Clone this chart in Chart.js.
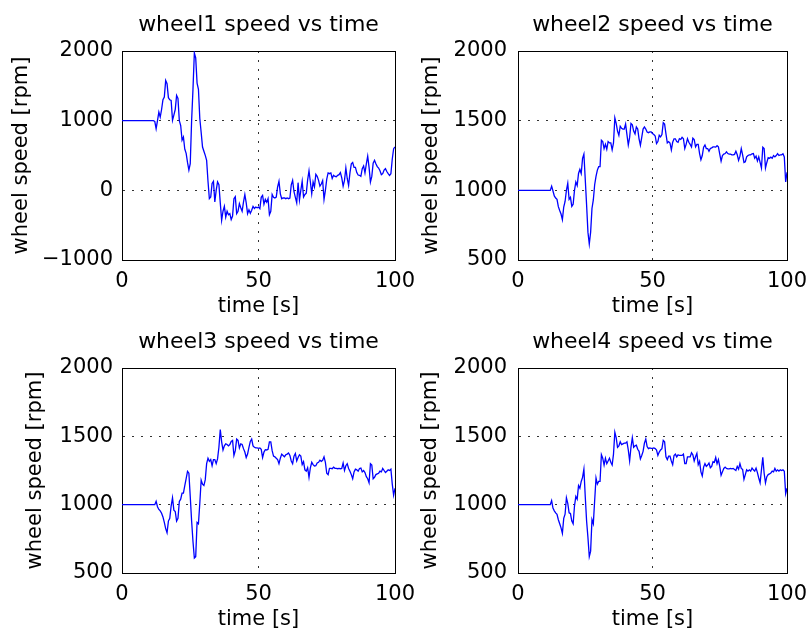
<!DOCTYPE html>
<html>
<head>
<meta charset="utf-8">
<script src="https://cdn.jsdelivr.net/npm/chart.js@4/dist/chart.umd.min.js"></script>
<style>
  html, body { margin: 0; padding: 0; background: #fff; }
  #fig { position: relative; width: 809px; height: 639px; }
  #fig canvas { position: absolute; left: 0; top: 0; }
</style>
</head>
<body>
<div id="fig">
  <canvas id="wheel1" width="809" height="639"></canvas>
  <canvas id="wheel2" width="809" height="639"></canvas>
  <canvas id="wheel3" width="809" height="639"></canvas>
  <canvas id="wheel4" width="809" height="639"></canvas>
</div>
<script>
// Sample times [s], 0.5 s period
const time = [
  0,0.5,1,1.5,2,2.5,3,3.5,4,4.5,
  5,5.5,6,6.5,7,7.5,8,8.5,9,9.5,
  10,10.5,11,11.5,12,12.5,13,13.5,14,14.5,
  15,15.5,16,16.5,17,17.5,18,18.5,19,19.5,
  20,20.5,21,21.5,22,22.5,23,23.5,24,24.5,
  25,25.5,26,26.5,27,27.5,28,28.5,29,29.5,
  30,30.5,31,31.5,32,32.5,33,33.5,34,34.5,
  35,35.5,36,36.5,37,37.5,38,38.5,39,39.5,
  40,40.5,41,41.5,42,42.5,43,43.5,44,44.5,
  45,45.5,46,46.5,47,47.5,48,48.5,49,49.5,
  50,50.5,51,51.5,52,52.5,53,53.5,54,54.5,
  55,55.5,56,56.5,57,57.5,58,58.5,59,59.5,
  60,60.5,61,61.5,62,62.5,63,63.5,64,64.5,
  65,65.5,66,66.5,67,67.5,68,68.5,69,69.5,
  70,70.5,71,71.5,72,72.5,73,73.5,74,74.5,
  75,75.5,76,76.5,77,77.5,78,78.5,79,79.5,
  80,80.5,81,81.5,82,82.5,83,83.5,84,84.5,
  85,85.5,86,86.5,87,87.5,88,88.5,89,89.5,
  90,90.5,91,91.5,92,92.5,93,93.5,94,94.5,
  95,95.5,96,96.5,97,97.5,98,98.5,99,99.5,
  100
];

// Wheel speeds [rpm]
const speed1 = [
  1000,1000,1000,1000,1000,1000,1000,1000,1000,1000,
  1000,1000,1000,1000,1000,1000,1000,1000,1000,1000,
  1000,1000,1000,1000,990,885,1000,1124,1052,1160,
  1300,1339,1578,1530,1330,1300,1290,1005,1080,1160,
  1363,1320,1000,930,720,765,590,530,400,290,
  383,1000,1450,1971,1900,1540,1450,1030,830,622,
  560,502,430,130,-120,-96,100,130,-167,0,
  120,80,-180,-430,-300,-230,-383,-300,-350,-335,
  -420,-370,-120,-90,-335,-300,-191,-250,-300,-170,
  -60,-180,-335,-280,-330,-287,-230,-260,-239,-250,
  -240,-263,-100,-72,-200,-130,-170,-120,-350,-300,
  -60,-100,-110,-96,48,130,-50,-120,-110,-110,
  -120,-110,-120,-110,80,143,-20,-100,-180,110,
  -140,0,130,-96,-60,-40,150,280,120,-48,
  120,50,230,200,143,60,90,140,-130,0,
  160,250,239,250,170,215,200,195,215,225,
  255,180,60,143,320,170,70,250,380,400,
  330,330,255,220,215,200,310,350,250,380,
  490,330,120,200,390,430,380,340,320,280,
  225,240,290,310,270,239,215,239,450,598,
  622
];

const speed2 = [
  1000,1000,1000,1000,1000,1000,1000,1000,1000,1000,
  1000,1000,1000,1000,1000,1000,1000,1000,1000,1000,
  1000,1000,1000,1000,1000,1030,995,960,945,935,
  883,855,830,790,880,920,1000,1050,935,950,
  885,900,1000,1060,1035,1121,1150,1120,1229,1260,
  1080,895,700,615,700,870,931,1040,1100,1145,
  1170,1170,1360,1350,1300,1330,1295,1350,1340,1340,
  1290,1340,1520,1480,1425,1395,1460,1445,1440,1440,
  1475,1400,1325,1380,1480,1470,1425,1405,1455,1440,
  1370,1324,1380,1440,1455,1440,1419,1414,1419,1419,
  1408,1400,1390,1336,1350,1395,1383,1400,1485,1475,
  1405,1340,1350,1340,1290,1345,1370,1370,1350,1345,
  1371,1365,1380,1370,1300,1330,1371,1345,1330,1312,
  1375,1365,1312,1330,1330,1264,1220,1250,1310,1325,
  1300,1300,1280,1300,1305,1312,1312,1310,1320,1312,
  1260,1210,1250,1260,1264,1276,1264,1260,1260,1255,
  1255,1258,1280,1255,1215,1245,1300,1255,1200,1205,
  1240,1250,1255,1255,1262,1264,1230,1245,1210,1240,
  1200,1160,1310,1300,1160,1200,1235,1230,1238,1230,
  1250,1240,1250,1264,1250,1255,1255,1262,1240,1060,
  1130
];

const speed3 = [
  1000,1000,1000,1000,1000,1000,1000,1000,1000,1000,
  1000,1000,1000,1000,1000,1000,1000,1000,1000,1000,
  1000,1000,1000,1000,1000,1025,985,965,955,937,
  910,870,825,795,880,900,990,1050,960,950,
  880,900,1024,1040,1085,1085,1140,1190,1244,1230,
  1060,880,730,610,620,870,860,1010,1180,1150,
  1140,1183,1300,1340,1317,1330,1285,1330,1330,1300,
  1335,1420,1549,1460,1400,1430,1445,1440,1430,1440,
  1463,1470,1360,1395,1480,1470,1415,1445,1440,1410,
  1385,1345,1370,1420,1463,1480,1430,1420,1415,1415,
  1412,1415,1405,1345,1385,1402,1400,1405,1460,1460,
  1395,1355,1350,1340,1330,1300,1340,1370,1360,1350,
  1365,1370,1378,1360,1320,1300,1355,1375,1320,1345,
  1365,1355,1293,1315,1255,1245,1270,1200,1270,1310,
  1293,1283,1285,1305,1310,1325,1317,1325,1350,1310,
  1230,1220,1265,1265,1263,1275,1266,1265,1263,1265,
  1263,1265,1305,1250,1285,1300,1265,1245,1220,1190,
  1240,1260,1255,1245,1265,1268,1240,1250,1235,1205,
  1190,1160,1300,1290,1190,1200,1220,1225,1230,1245,
  1240,1265,1250,1235,1245,1255,1250,1260,1150,1070,
  1120
];

const speed4 = [
  1000,1000,1000,1000,1000,1000,1000,1000,1000,1000,
  1000,1000,1000,1000,1000,1000,1000,1000,1000,1000,
  1000,1000,1000,1000,1000,1030,975,955,940,930,
  890,860,830,790,900,930,1050,1010,940,935,
  880,860,990,1060,1040,1140,1120,1170,1200,1260,
  1060,880,760,620,660,890,860,1030,1195,1150,
  1170,1170,1366,1340,1290,1340,1300,1320,1340,1310,
  1290,1370,1530,1490,1420,1430,1460,1440,1445,1450,
  1450,1460,1400,1320,1420,1490,1420,1430,1435,1405,
  1390,1335,1360,1390,1450,1480,1425,1410,1415,1412,
  1412,1415,1410,1400,1360,1385,1400,1410,1470,1460,
  1350,1330,1355,1355,1320,1293,1360,1370,1350,1365,
  1360,1360,1360,1370,1300,1300,1350,1350,1350,1380,
  1365,1320,1350,1375,1293,1317,1240,1210,1275,1300,
  1280,1290,1305,1270,1280,1315,1310,1345,1300,1330,
  1280,1215,1240,1265,1275,1265,1262,1262,1265,1262,
  1265,1258,1250,1280,1260,1300,1265,1258,1185,1220,
  1255,1245,1255,1245,1268,1255,1245,1268,1235,1195,
  1160,1255,1346,1230,1160,1205,1220,1225,1232,1245,
  1240,1265,1245,1255,1245,1255,1250,1255,1245,1080,
  1120
];

// Axis ticks and texts
const xTicks = [0, 50, 100];
const yTicksWheel1 = [-1000, 0, 1000, 2000];
const yTicksOther = [500, 1000, 1500, 2000];
const panelTitles = ['wheel1 speed vs time', 'wheel2 speed vs time', 'wheel3 speed vs time', 'wheel4 speed vs time'];
const xLabel = 'time [s]';
const yLabel = 'wheel speed [rpm]';

Chart.defaults.font.family = "'DejaVu Sans', sans-serif";
Chart.defaults.color = '#000';

const TICK_FONT = { size: 21, lineHeight: 1.2 };
const LABEL_FONT = { size: 21, lineHeight: 1.2 };
const TITLE_FONT = { size: 22, weight: 'normal', lineHeight: 1.2 };

function tickText(v) {
  return v < 0 ? '\u2212' + Math.abs(v) : String(v);
}

function fixedTicks(list) {
  return (scale) => { scale.ticks = list.map(v => ({ value: v })); };
}

// One subplot per canvas; geometry sets where its axes box sits on the page
function panel(id, title, values, yTicks, g) {
  const blue = '#0000ff';
  new Chart(document.getElementById(id), {
    type: 'line',
    data: {
      datasets: [{
        data: time.map((t, i) => ({ x: t, y: values[i] })),
        borderColor: blue,
        borderWidth: 1.3,
        pointRadius: 0,
        fill: false,
        tension: 0,
        xAxisID: 'x',
        yAxisID: 'y'
      }]
    },
    options: {
      responsive: false,
      animation: false,
      devicePixelRatio: 1,
      events: [],
      layout: { autoPadding: false, padding: { left: g.padL, right: g.padR, top: g.padT, bottom: g.padB } },
      plugins: {
        legend: { display: false },
        tooltip: { enabled: false },
        title: {
          display: true, text: title, fullSize: false, color: '#000',
          font: TITLE_FONT, padding: { top: 0, bottom: 12.8 }
        }
      },
      scales: {
        x: {
          type: 'linear', position: 'bottom',
          min: xTicks[0], max: xTicks[xTicks.length - 1],
          afterBuildTicks: fixedTicks(xTicks),
          ticks: { padding: 9, font: TICK_FONT, autoSkip: false, maxRotation: 0, minRotation: 0, callback: tickText },
          grid: { color: '#333', lineWidth: 1, drawTicks: false },
          border: { display: true, color: '#000', width: 1, dash: [2, 7] },
          title: { display: true, text: xLabel, font: LABEL_FONT, padding: 0, color: '#000' },
          afterFit: (s) => { s.height = g.xH; s.paddingLeft = 0; s.paddingRight = 0; }
        },
        y: {
          type: 'linear', position: 'left',
          min: yTicks[0], max: yTicks[yTicks.length - 1],
          afterBuildTicks: fixedTicks(yTicks),
          ticks: { padding: g.yTickPad, font: TICK_FONT, autoSkip: false, callback: tickText },
          grid: { color: '#333', lineWidth: 1, drawTicks: false },
          border: { display: true, color: '#000', width: 1, dash: [2, 7] },
          title: { display: true, text: yLabel, font: LABEL_FONT, padding: 0, color: '#000' },
          afterFit: (s) => { s.width = g.yW; s.paddingTop = 0; s.paddingBottom = 0; }
        },
        xTop: {
          type: 'linear', position: 'top', min: 0, max: 100,
          ticks: { display: false }, grid: { display: false, drawTicks: false },
          border: { display: true, color: '#000', width: 1 },
          afterFit: (s) => { s.height = 0; s.paddingLeft = 0; s.paddingRight = 0; }
        },
        yRight: {
          type: 'linear', position: 'right', min: 0, max: 1,
          ticks: { display: false }, grid: { display: false, drawTicks: false },
          border: { display: true, color: '#000', width: 1 },
          afterFit: (s) => { s.width = 0; s.paddingTop = 0; s.paddingBottom = 0; }
        }
      }
    }
  });
}

// Layout of the 2x2 grid of axes
const topRow = { padT: 11.8, padB: 319.7, xH: 59.3 };
const bottomRow = { padT: 328.8, padB: 6.7, xH: 59.3 };

panel('wheel1', panelTitles[0], speed1, yTicksWheel1, Object.assign({ padL: 9.4, padR: 414, yW: 112.6, yTickPad: 9 }, topRow));
panel('wheel2', panelTitles[1], speed2, yTicksOther, Object.assign({ padL: 419.4, padR: 22, yW: 98.6, yTickPad: 11 }, topRow));
panel('wheel3', panelTitles[2], speed3, yTicksOther, Object.assign({ padL: 23.4, padR: 414, yW: 98.6, yTickPad: 9 }, bottomRow));
panel('wheel4', panelTitles[3], speed4, yTicksOther, Object.assign({ padL: 418.4, padR: 22, yW: 99.6, yTickPad: 11 }, bottomRow));
</script>
</body>
</html>
